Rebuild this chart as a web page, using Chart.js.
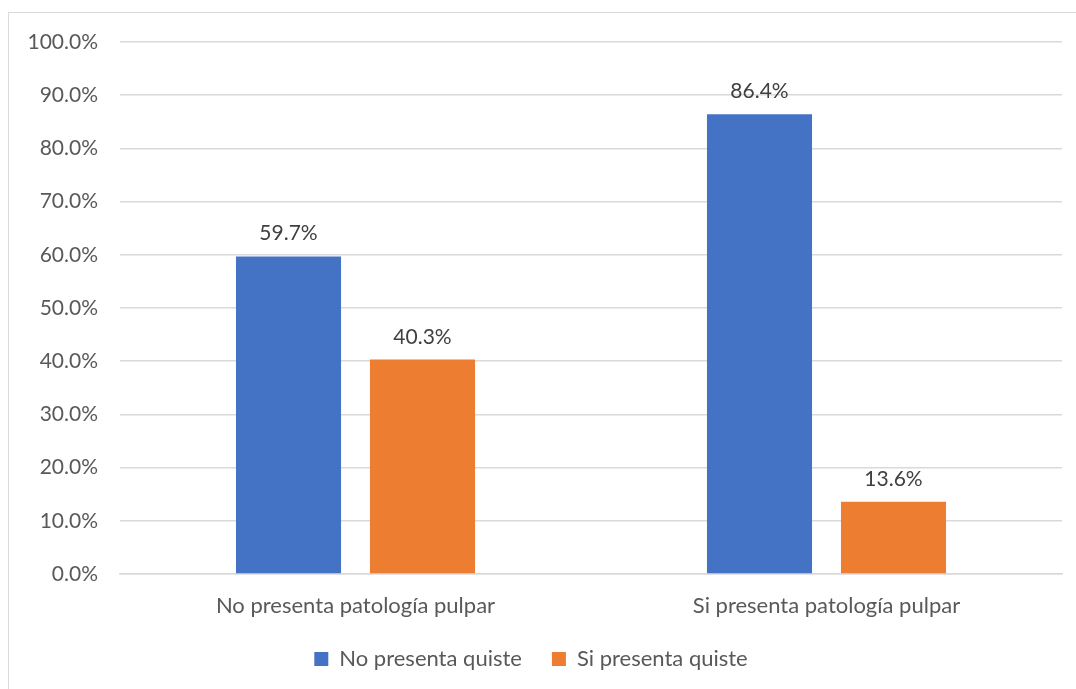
<!DOCTYPE html>
<html>
<head>
<meta charset="utf-8">
<script src="https://cdn.jsdelivr.net/npm/chart.js@4.4.1/dist/chart.umd.min.js"></script>
<style>
    body { margin: 0; background: #ffffff; overflow: hidden; }
    #wrap { position: relative; width: 1076px; height: 689px; }
    #frame {
        position: absolute; left: 8px; top: 12px; width: 1100px; height: 700px;
        border-left: 1.5px solid #d9d9d9; border-top: 1.5px solid #d9d9d9;
    }
    #chart { position: absolute; left: 0; top: 0; }
</style>
</head>
<body>
<div id="wrap">
    <div id="frame"></div>
    <canvas id="chart" width="1076" height="689"></canvas>
</div>
<script>
// categories on the x axis
const categories = ["No presenta patología pulpar", "Si presenta patología pulpar"];

// series names (legend)
const seriesNames = ["No presenta quiste", "Si presenta quiste"];

// percentages per series
const noQuiste = [59.7, 86.4];
const siQuiste = [40.3, 13.6];

// y axis range
const yMin = 0;
const yMax = 100;
const yStep = 10;

const fontFamily = "Lato, 'Open Sans', sans-serif";

// draw the value above each bar
const barValueLabels = {
    id: 'barValueLabels',
    afterDatasetsDraw(chart) {
        const ctx = chart.ctx;
        ctx.save();
        ctx.font = "21px " + fontFamily;
        ctx.fillStyle = '#404040';
        ctx.textAlign = 'center';
        ctx.textBaseline = 'alphabetic';
        chart.data.datasets.forEach((ds, i) => {
            const meta = chart.getDatasetMeta(i);
            meta.data.forEach((bar, j) => {
                ctx.fillText(ds.data[j].toFixed(1) + '%', bar.x, bar.y - 16);
            });
        });
        ctx.restore();
    }
};

window.addEventListener("load", () => {
    generateBarChart();
});

const generateBarChart = () => {
    const ctx = document.getElementById('chart');

    new Chart(ctx, {
        type: 'bar',
        data: {
            labels: categories,
            datasets: [{
                label: seriesNames[0],
                data: noQuiste,
                backgroundColor: '#4472C4',
                categoryPercentage: 0.569,
                barPercentage: 0.784
            }, {
                label: seriesNames[1],
                data: siQuiste,
                backgroundColor: '#ED7D31',
                categoryPercentage: 0.569,
                barPercentage: 0.784
            }]
        },
        options: {
            responsive: false,
            animation: false,
            layout: {
                padding: { top: 42, right: 14, bottom: 9, left: 0 }
            },
            plugins: {
                tooltip: { enabled: false },
                legend: {
                    position: 'bottom',
                    labels: {
                        boxWidth: 14,
                        boxHeight: 14,
                        padding: 30,
                        color: '#595959',
                        font: { family: fontFamily, size: 22 }
                    }
                }
            },
            scales: {
                x: {
                    // fixed height so the labels sit close to the legend
                    afterFit: (scale) => { scale.height = 44; },
                    grid: { display: false, drawTicks: false },
                    border: { display: true, color: '#d9d9d9', width: 1.5 },
                    ticks: {
                        padding: 19,
                        color: '#595959',
                        font: { family: fontFamily, size: 22 }
                    }
                },
                y: {
                    min: yMin,
                    max: yMax,
                    afterFit: (scale) => { scale.width = 120; },
                    grid: { color: '#d9d9d9', lineWidth: 1.5, drawTicks: false },
                    border: { display: false },
                    ticks: {
                        stepSize: yStep,
                        padding: 22,
                        color: '#595959',
                        font: { family: fontFamily, size: 21 },
                        callback: (v) => v.toFixed(1) + '%'
                    }
                }
            }
        },
        plugins: [barValueLabels]
    });
}
</script>
</body>
</html>
